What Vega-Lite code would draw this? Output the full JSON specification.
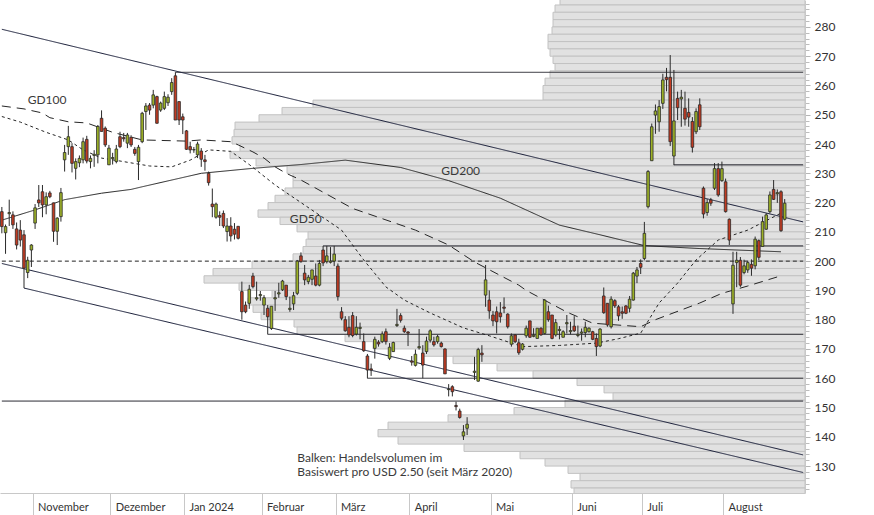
{
"$schema":"https://vega.github.io/schema/vega-lite/v6.json",
"width":805,"height":493,"autosize":"none",
"padding":{"left":0,"top":0,"right":69,"bottom":22},
"background":"white",
"config":{"view":{"stroke":null}},
"datasets":{
"vol":[
{"lo":287.5,"vol":245},{"lo":285,"vol":250},{"lo":282.5,"vol":252},{"lo":280,"vol":252},{"lo":277.5,"vol":253},{"lo":275,"vol":257},{"lo":272.5,"vol":257},{"lo":270,"vol":255},{"lo":267.5,"vol":252},{"lo":265,"vol":250},{"lo":262.5,"vol":255},{"lo":260,"vol":260},{"lo":257.5,"vol":262},{"lo":255,"vol":262},{"lo":252.5,"vol":492},{"lo":250,"vol":523},{"lo":247.5,"vol":546},{"lo":245,"vol":570},{"lo":242.5,"vol":571},{"lo":240,"vol":573},{"lo":237.5,"vol":565},{"lo":235,"vol":575},{"lo":232.5,"vol":549},{"lo":230,"vol":518},{"lo":227.5,"vol":512},{"lo":225,"vol":512},{"lo":222.5,"vol":520},{"lo":220,"vol":530},{"lo":217.5,"vol":537},{"lo":215,"vol":547},{"lo":212.5,"vol":525},{"lo":210,"vol":508},{"lo":207.5,"vol":497},{"lo":205,"vol":499},{"lo":202.5,"vol":502},{"lo":200,"vol":512},{"lo":197.5,"vol":553},{"lo":195,"vol":592},{"lo":192.5,"vol":601},{"lo":190,"vol":566},{"lo":187.5,"vol":533},{"lo":185,"vol":557},{"lo":182.5,"vol":552},{"lo":180,"vol":544},{"lo":177.5,"vol":511},{"lo":175,"vol":508},{"lo":172.5,"vol":460},{"lo":170,"vol":432},{"lo":167.5,"vol":383},{"lo":165,"vol":352},{"lo":162.5,"vol":308},{"lo":160,"vol":272},{"lo":157.5,"vol":228},{"lo":155,"vol":201},{"lo":152.5,"vol":192},{"lo":150,"vol":240},{"lo":147.5,"vol":291},{"lo":145,"vol":357},{"lo":142.5,"vol":417},{"lo":140,"vol":427},{"lo":137.5,"vol":407},{"lo":135,"vol":341},{"lo":132.5,"vol":285},{"lo":130,"vol":260},{"lo":127.5,"vol":237},{"lo":125,"vol":225},{"lo":122.5,"vol":234},{"lo":120,"vol":231}
],
"candles":[
{"d":"2023-10-19","o":216.9,"h":218.5,"l":209.5,"c":211.8},
{"d":"2023-10-20","o":209.7,"h":212.5,"l":202.5,"c":211.8},
{"d":"2023-10-23","o":216.2,"h":221,"l":212,"c":216.6},
{"d":"2023-10-24","o":215.8,"h":217,"l":211,"c":212.4},
{"d":"2023-10-25","o":211,"h":213.2,"l":204,"c":205.5},
{"d":"2023-10-26","o":210.6,"h":214,"l":205,"c":207.2},
{"d":"2023-10-27","o":209,"h":210.6,"l":190.8,"c":197.6},
{"d":"2023-10-30","o":196.1,"h":201.5,"l":194.2,"c":200.3},
{"d":"2023-10-31","o":203.8,"h":205.8,"l":198,"c":205.5},
{"d":"2023-11-01","o":213,"h":219.5,"l":211,"c":218.2},
{"d":"2023-11-02","o":220.9,"h":226,"l":218.5,"c":219.9},
{"d":"2023-11-03","o":223.7,"h":226,"l":215,"c":219.2},
{"d":"2023-11-06","o":219.2,"h":223.5,"l":216,"c":222},
{"d":"2023-11-07","o":223.3,"h":224,"l":221.5,"c":222},
{"d":"2023-11-08","o":219.9,"h":220,"l":206.6,"c":210.2},
{"d":"2023-11-09","o":210.2,"h":215,"l":205.5,"c":214.7},
{"d":"2023-11-10","o":215.2,"h":225,"l":213.5,"c":223.4},
{"d":"2023-11-13","o":234.6,"h":239.7,"l":230.6,"c":237.1},
{"d":"2023-11-14","o":239.1,"h":246.2,"l":236.3,"c":242.5},
{"d":"2023-11-15","o":239.1,"h":240.3,"l":230.3,"c":233.4},
{"d":"2023-11-16","o":231.7,"h":235.1,"l":227.9,"c":234},
{"d":"2023-11-17","o":233.6,"h":236.1,"l":232.1,"c":235.1},
{"d":"2023-11-20","o":234.6,"h":242.2,"l":233.4,"c":240.8},
{"d":"2023-11-21","o":241.6,"h":242.8,"l":233.4,"c":234.2},
{"d":"2023-11-22","o":234,"h":236.1,"l":231.7,"c":235.1},
{"d":"2023-11-24","o":236.1,"h":237.9,"l":232.2,"c":236.5},
{"d":"2023-11-27","o":236.3,"h":246.5,"l":233.4,"c":246},
{"d":"2023-11-28","o":248.8,"h":251.5,"l":244.3,"c":244.3},
{"d":"2023-11-29","o":245.4,"h":246,"l":239,"c":239.7},
{"d":"2023-11-30","o":232.9,"h":239.7,"l":232.9,"c":238.6},
{"d":"2023-12-01","o":235,"h":237,"l":233,"c":235.4},
{"d":"2023-12-04","o":234,"h":239.7,"l":233.4,"c":238.3},
{"d":"2023-12-05","o":242.5,"h":244.2,"l":238.6,"c":239.1},
{"d":"2023-12-06","o":242.2,"h":243.8,"l":240.8,"c":241.8},
{"d":"2023-12-07","o":240.3,"h":243.8,"l":238.6,"c":243.1},
{"d":"2023-12-08","o":242.3,"h":243,"l":239,"c":239.7},
{"d":"2023-12-11","o":238.2,"h":239,"l":236,"c":236.8},
{"d":"2023-12-12","o":234,"h":239.7,"l":227.7,"c":238.9},
{"d":"2023-12-13","o":240.8,"h":251,"l":240.3,"c":250.5},
{"d":"2023-12-14","o":251.1,"h":254,"l":244.8,"c":253},
{"d":"2023-12-15","o":253.3,"h":254,"l":250,"c":251.6},
{"d":"2023-12-18","o":253.3,"h":258.5,"l":252.2,"c":256.8},
{"d":"2023-12-19","o":256.2,"h":256.5,"l":247,"c":247.1},
{"d":"2023-12-20","o":251.6,"h":254.5,"l":251,"c":254},
{"d":"2023-12-21","o":252.2,"h":257.9,"l":251.6,"c":256.2},
{"d":"2023-12-22","o":254.1,"h":257,"l":253,"c":256},
{"d":"2023-12-26","o":257.9,"h":262.5,"l":256.8,"c":261},
{"d":"2023-12-27","o":263.3,"h":264.5,"l":248.2,"c":248.2},
{"d":"2023-12-28","o":254.5,"h":254.5,"l":246.5,"c":248.2},
{"d":"2023-12-29","o":249.3,"h":250.4,"l":243.4,"c":248.2},
{"d":"2024-01-02","o":244.5,"h":244.8,"l":238,"c":238.2},
{"d":"2024-01-03","o":239.1,"h":240.8,"l":236.8,"c":238},
{"d":"2024-01-04","o":238,"h":239,"l":237,"c":238.1},
{"d":"2024-01-05","o":236.3,"h":240.8,"l":235.2,"c":240},
{"d":"2024-01-08","o":237.6,"h":238.6,"l":232.2,"c":234.8},
{"d":"2024-01-09","o":234.6,"h":236.3,"l":230.9,"c":234},
{"d":"2024-01-10","o":230,"h":230.6,"l":225.8,"c":226.8},
{"d":"2024-01-11","o":219.5,"h":224.8,"l":215,"c":218.6},
{"d":"2024-01-12","o":215,"h":220,"l":214.5,"c":219.5},
{"d":"2024-01-16","o":215.6,"h":217,"l":212,"c":215},
{"d":"2024-01-17","o":216.3,"h":217.3,"l":211.3,"c":212},
{"d":"2024-01-18","o":210.1,"h":214.7,"l":206.7,"c":212},
{"d":"2024-01-19","o":212,"h":215,"l":206.7,"c":208.6},
{"d":"2024-01-22","o":210.9,"h":213,"l":207.4,"c":209.2},
{"d":"2024-01-23","o":211.9,"h":211.9,"l":207.4,"c":207.8},
{"d":"2024-01-24","o":189.6,"h":193,"l":180,"c":182.7},
{"d":"2024-01-25","o":185,"h":186.2,"l":182.2,"c":182.7},
{"d":"2024-01-26","o":185.6,"h":191.9,"l":183.7,"c":190.4},
{"d":"2024-01-29","o":194.9,"h":196,"l":190.7,"c":191.3},
{"d":"2024-01-30","o":187.1,"h":193,"l":186.5,"c":187.5},
{"d":"2024-01-31","o":188.2,"h":189.8,"l":186.5,"c":188.6},
{"d":"2024-02-01","o":185,"h":188.4,"l":181.6,"c":187.5},
{"d":"2024-02-02","o":183.9,"h":185,"l":175,"c":181},
{"d":"2024-02-05","o":177,"h":184.6,"l":176.5,"c":184.6},
{"d":"2024-02-06","o":187.1,"h":189.8,"l":183,"c":187.5},
{"d":"2024-02-07","o":188.8,"h":192.6,"l":187.5,"c":189.2},
{"d":"2024-02-08","o":190.2,"h":193.6,"l":189.8,"c":193.2},
{"d":"2024-02-09","o":191.8,"h":191.8,"l":186.7,"c":187.9},
{"d":"2024-02-12","o":183.5,"h":187.9,"l":182.7,"c":183.9},
{"d":"2024-02-13","o":185.4,"h":189.5,"l":183.3,"c":188.2},
{"d":"2024-02-14","o":189,"h":200.4,"l":188.4,"c":200},
{"d":"2024-02-15","o":201.8,"h":203,"l":199.5,"c":199.8},
{"d":"2024-02-16","o":195.9,"h":198.7,"l":191.8,"c":193.6},
{"d":"2024-02-20","o":193,"h":195.3,"l":192.1,"c":194.5},
{"d":"2024-02-21","o":193.8,"h":197,"l":191.8,"c":197},
{"d":"2024-02-22","o":194.9,"h":199.2,"l":191.4,"c":191.8},
{"d":"2024-02-23","o":191.8,"h":200.4,"l":191.4,"c":199.2},
{"d":"2024-02-26","o":203.8,"h":205.2,"l":198.3,"c":199.4},
{"d":"2024-02-27","o":199.8,"h":205.2,"l":199.2,"c":201.8},
{"d":"2024-02-28","o":199.6,"h":204.8,"l":199.2,"c":200},
{"d":"2024-02-29","o":200,"h":205.2,"l":198.3,"c":202.4},
{"d":"2024-03-01","o":198.3,"h":199.2,"l":186.5,"c":187.9},
{"d":"2024-03-04","o":182.7,"h":184.3,"l":179.8,"c":180.5},
{"d":"2024-03-05","o":180,"h":181.2,"l":175.9,"c":176.2},
{"d":"2024-03-06","o":177.4,"h":181.2,"l":174,"c":174.8},
{"d":"2024-03-07","o":181.4,"h":182.6,"l":174,"c":174.6},
{"d":"2024-03-08","o":175.1,"h":181.2,"l":174.6,"c":177.4},
{"d":"2024-03-11","o":177,"h":179,"l":173.3,"c":177.4},
{"d":"2024-03-12","o":172.5,"h":175.3,"l":169,"c":169.4},
{"d":"2024-03-13","o":167.6,"h":168.3,"l":160,"c":162.8},
{"d":"2024-03-14","o":163.2,"h":165,"l":160.8,"c":162.8},
{"d":"2024-03-15","o":170.2,"h":174.2,"l":166.7,"c":173.3},
{"d":"2024-03-18","o":172.3,"h":173,"l":170.8,"c":171.7},
{"d":"2024-03-19","o":172.5,"h":176,"l":172,"c":175.1},
{"d":"2024-03-20","o":175.9,"h":177,"l":171.5,"c":172.5},
{"d":"2024-03-21","o":166.8,"h":172,"l":166.2,"c":170.6},
{"d":"2024-03-22","o":169.1,"h":172.5,"l":169,"c":172.2},
{"d":"2024-03-25","o":178,"h":183.7,"l":177.5,"c":178.4},
{"d":"2024-03-26","o":181.4,"h":182.2,"l":179,"c":179.8},
{"d":"2024-03-27","o":177.1,"h":178,"l":175.5,"c":175.9},
{"d":"2024-03-28","o":175.8,"h":176.1,"l":171,"c":175.4},
{"d":"2024-04-01","o":165.9,"h":167.6,"l":164.3,"c":165.5},
{"d":"2024-04-02","o":164.4,"h":169.8,"l":164,"c":168.2},
{"d":"2024-04-03","o":170.4,"h":176.8,"l":169.8,"c":170.8},
{"d":"2024-04-04","o":168.6,"h":171.3,"l":160,"c":164.5},
{"d":"2024-04-05","o":169.1,"h":174.2,"l":168.3,"c":172.7},
{"d":"2024-04-08","o":173,"h":176.7,"l":172.2,"c":176.2},
{"d":"2024-04-09","o":172.5,"h":174.2,"l":170.8,"c":171.4},
{"d":"2024-04-10","o":172.5,"h":174.8,"l":171.8,"c":174.2},
{"d":"2024-04-11","o":172,"h":172.5,"l":170.5,"c":170.8},
{"d":"2024-04-12","o":170,"h":170.2,"l":161.5,"c":161.5},
{"d":"2024-04-15","o":156.1,"h":158,"l":153.8,"c":156.3},
{"d":"2024-04-16","o":157.1,"h":157.6,"l":153.8,"c":155.4},
{"d":"2024-04-17","o":150.7,"h":152,"l":149,"c":150.3},
{"d":"2024-04-18","o":148.8,"h":149.6,"l":146.2,"c":146.6},
{"d":"2024-04-19","o":140.3,"h":144,"l":138.9,"c":141.7},
{"d":"2024-04-22","o":142.9,"h":146.7,"l":140.6,"c":144.3},
{"d":"2024-04-24","o":162,"h":167.3,"l":159.4,"c":162.4},
{"d":"2024-04-25","o":159,"h":170.4,"l":158.8,"c":169.8},
{"d":"2024-04-26","o":168.6,"h":171.3,"l":165.6,"c":168},
{"d":"2024-04-29","o":188.4,"h":198.7,"l":184.4,"c":193.6},
{"d":"2024-04-30","o":186.7,"h":190,"l":180.3,"c":183},
{"d":"2024-05-01","o":181.6,"h":183,"l":177.8,"c":179.6},
{"d":"2024-05-02","o":182.7,"h":184.5,"l":175.3,"c":179.3},
{"d":"2024-05-03","o":182.3,"h":186,"l":179,"c":181},
{"d":"2024-05-06","o":184.3,"h":187.6,"l":182.2,"c":183.9},
{"d":"2024-05-07","o":181.9,"h":182.2,"l":177,"c":177.6},
{"d":"2024-05-08","o":171.6,"h":175.3,"l":170.8,"c":174.5},
{"d":"2024-05-09","o":174.8,"h":175,"l":172,"c":172.5},
{"d":"2024-05-10","o":172.1,"h":173.5,"l":168,"c":168.7},
{"d":"2024-05-13","o":169.9,"h":172,"l":169.5,"c":171.7},
{"d":"2024-05-14","o":174.5,"h":178,"l":173.8,"c":177.1},
{"d":"2024-05-15","o":179.6,"h":179.6,"l":173.8,"c":174},
{"d":"2024-05-16","o":174.3,"h":177.1,"l":174,"c":174.7},
{"d":"2024-05-17","o":173.6,"h":177.1,"l":173.6,"c":177.1},
{"d":"2024-05-20","o":177.1,"h":177.4,"l":174.5,"c":174.8},
{"d":"2024-05-21","o":175.3,"h":187,"l":175,"c":186.7},
{"d":"2024-05-22","o":182.7,"h":184.8,"l":179.3,"c":180},
{"d":"2024-05-23","o":181.6,"h":181.6,"l":173.3,"c":173.6},
{"d":"2024-05-24","o":174.8,"h":180.2,"l":174.2,"c":179},
{"d":"2024-05-28","o":176.3,"h":177.8,"l":173.3,"c":176.7},
{"d":"2024-05-29","o":174,"h":176.4,"l":174,"c":175.9},
{"d":"2024-05-30","o":178.6,"h":181.6,"l":175.3,"c":179},
{"d":"2024-05-31","o":175.9,"h":179.3,"l":175,"c":176.3},
{"d":"2024-06-03","o":177.8,"h":181.2,"l":175.8,"c":176.2},
{"d":"2024-06-04","o":174.6,"h":178,"l":174,"c":175},
{"d":"2024-06-05","o":175.4,"h":177,"l":172.8,"c":175.8},
{"d":"2024-06-06","o":175.6,"h":179.3,"l":174,"c":177.4},
{"d":"2024-06-07","o":175.9,"h":177.4,"l":175.6,"c":177.1},
{"d":"2024-06-10","o":175.9,"h":176.2,"l":173,"c":173.3},
{"d":"2024-06-11","o":173.6,"h":175.3,"l":167.6,"c":170.8},
{"d":"2024-06-12","o":171,"h":177.1,"l":170.6,"c":176.8},
{"d":"2024-06-13","o":188.1,"h":191,"l":182,"c":182.4},
{"d":"2024-06-14","o":185.6,"h":185.6,"l":177.6,"c":178.2},
{"d":"2024-06-17","o":177.6,"h":188,"l":177,"c":187},
{"d":"2024-06-18","o":186.5,"h":187,"l":184,"c":184.7},
{"d":"2024-06-20","o":184.4,"h":185,"l":179.6,"c":181.3},
{"d":"2024-06-21","o":182.7,"h":184.5,"l":180.3,"c":182.2},
{"d":"2024-06-24","o":184.7,"h":185,"l":181.9,"c":182.2},
{"d":"2024-06-25","o":183.9,"h":188.1,"l":182.5,"c":187},
{"d":"2024-06-26","o":186.7,"h":196.3,"l":186.5,"c":195.9},
{"d":"2024-06-27","o":194.9,"h":198,"l":192.5,"c":197},
{"d":"2024-06-28","o":199.2,"h":200.6,"l":195.6,"c":197.9},
{"d":"2024-07-01","o":200.9,"h":213.4,"l":200.3,"c":209.5},
{"d":"2024-07-02","o":218.6,"h":231.1,"l":218,"c":230.6},
{"d":"2024-07-03","o":234.3,"h":247,"l":234.3,"c":245.9},
{"d":"2024-07-05","o":249.9,"h":253.5,"l":243.5,"c":251.3},
{"d":"2024-07-08","o":247.6,"h":255,"l":244.2,"c":252.8},
{"d":"2024-07-09","o":253.9,"h":264,"l":252,"c":261.9},
{"d":"2024-07-10","o":262.8,"h":266,"l":258,"c":262},
{"d":"2024-07-11","o":262.8,"h":270.4,"l":239.3,"c":240.8},
{"d":"2024-07-12","o":235.9,"h":265.3,"l":232.8,"c":247.9},
{"d":"2024-07-15","o":255.6,"h":257.9,"l":248.2,"c":252.4},
{"d":"2024-07-16","o":255.4,"h":258.5,"l":245.9,"c":256},
{"d":"2024-07-17","o":252.2,"h":257.9,"l":246.3,"c":248.5},
{"d":"2024-07-18","o":250.8,"h":255.6,"l":245.9,"c":249.2},
{"d":"2024-07-19","o":247.7,"h":249.2,"l":237.1,"c":238.9},
{"d":"2024-07-22","o":244.2,"h":252.2,"l":243.4,"c":251.1},
{"d":"2024-07-23","o":253.4,"h":255.6,"l":244.8,"c":245.9},
{"d":"2024-07-24","o":224.9,"h":225.5,"l":214.6,"c":216.1},
{"d":"2024-07-25","o":216.6,"h":221.2,"l":215.5,"c":220},
{"d":"2024-07-26","o":220.9,"h":221.6,"l":218.9,"c":219.8},
{"d":"2024-07-29","o":224.9,"h":233.5,"l":224.3,"c":231.6},
{"d":"2024-07-30","o":231.6,"h":233.5,"l":222,"c":222.6},
{"d":"2024-07-31","o":227.5,"h":234,"l":227.1,"c":231.6},
{"d":"2024-08-01","o":227.1,"h":228.2,"l":216.6,"c":216.9},
{"d":"2024-08-02","o":214.3,"h":214.6,"l":205.5,"c":207.2},
{"d":"2024-08-05","o":185.4,"h":203.2,"l":182,"c":198.6},
{"d":"2024-08-06","o":199.5,"h":203.2,"l":191.1,"c":200.3},
{"d":"2024-08-07","o":200.3,"h":201.4,"l":191.2,"c":191.8},
{"d":"2024-08-08","o":196.1,"h":200.5,"l":195.5,"c":198.4},
{"d":"2024-08-09","o":197,"h":200.1,"l":196,"c":199.5},
{"d":"2024-08-12","o":198.9,"h":200.6,"l":195,"c":197.6},
{"d":"2024-08-13","o":198.4,"h":208.4,"l":197.2,"c":207.5},
{"d":"2024-08-14","o":207,"h":207.4,"l":200.4,"c":201.3},
{"d":"2024-08-15","o":205,"h":215.2,"l":205,"c":213.5},
{"d":"2024-08-16","o":210.9,"h":216.4,"l":210.7,"c":215.8},
{"d":"2024-08-19","o":216.9,"h":223.8,"l":216.4,"c":222.6},
{"d":"2024-08-20","o":224.5,"h":227.7,"l":220.9,"c":221.1},
{"d":"2024-08-21","o":223,"h":224.5,"l":219.9,"c":223.4},
{"d":"2024-08-22","o":223.7,"h":224.2,"l":210,"c":210.4},
{"d":"2024-08-23","o":214.3,"h":221.2,"l":213.9,"c":219.8}
],
"lines":[
{"id":"GD200","k":"GD200","d":"2023-10-19","v":214},{"id":"GD200","k":"GD200","d":"2023-11-01","v":217.5},{"id":"GD200","k":"GD200","d":"2023-11-13","v":221},{"id":"GD200","k":"GD200","d":"2023-11-28","v":223.2},{"id":"GD200","k":"GD200","d":"2023-12-08","v":224.5},{"id":"GD200","k":"GD200","d":"2023-12-13","v":225.4},{"id":"GD200","k":"GD200","d":"2024-01-08","v":230},{"id":"GD200","k":"GD200","d":"2024-01-29","v":231.7},{"id":"GD200","k":"GD200","d":"2024-02-15","v":233},{"id":"GD200","k":"GD200","d":"2024-03-05","v":234.5},{"id":"GD200","k":"GD200","d":"2024-03-26","v":232},{"id":"GD200","k":"GD200","d":"2024-04-15","v":227.5},{"id":"GD200","k":"GD200","d":"2024-05-03","v":221.5},{"id":"GD200","k":"GD200","d":"2024-05-28","v":212.3},{"id":"GD200","k":"GD200","d":"2024-06-12","v":209},{"id":"GD200","k":"GD200","d":"2024-07-01","v":205.3},{"id":"GD200","k":"GD200","d":"2024-07-23","v":204.3},{"id":"GD200","k":"GD200","d":"2024-08-22","v":203.2},
{"id":"GD100","k":"GD100","d":"2023-10-19","v":253},{"id":"GD100","k":"GD100","d":"2023-10-27","v":252},{"id":"GD100","k":"GD100","d":"2023-11-03","v":250.6},{"id":"GD100","k":"GD100","d":"2023-11-07","v":249},{"id":"GD100","k":"GD100","d":"2023-11-14","v":247.6},{"id":"GD100","k":"GD100","d":"2023-11-21","v":247.2},{"id":"GD100","k":"GD100","d":"2023-12-01","v":244},{"id":"GD100","k":"GD100","d":"2023-12-13","v":241.4},{"id":"GD100","k":"GD100","d":"2024-01-02","v":241},{"id":"GD100","k":"GD100","d":"2024-01-08","v":241.4},{"id":"GD100","k":"GD100","d":"2024-01-19","v":240.8},{"id":"GD100","k":"GD100","d":"2024-01-23","v":239.7},{"id":"GD100","k":"GD100","d":"2024-01-29","v":237.3},{"id":"GD100","k":"GD100","d":"2024-02-01","v":235.2},{"id":"GD100","k":"GD100","d":"2024-02-06","v":232.2},{"id":"GD100","k":"GD100","d":"2024-02-09","v":230},{"id":"GD100","k":"GD100","d":"2024-02-15","v":227.7},{"id":"GD100","k":"GD100","d":"2024-03-07","v":218},{"id":"GD100","k":"GD100","d":"2024-04-02","v":210.6},{"id":"GD100","k":"GD100","d":"2024-04-15","v":205.5},{"id":"GD100","k":"GD100","d":"2024-04-24","v":199.7},{"id":"GD100","k":"GD100","d":"2024-05-10","v":191.8},{"id":"GD100","k":"GD100","d":"2024-05-14","v":190},{"id":"GD100","k":"GD100","d":"2024-05-30","v":182.6},{"id":"GD100","k":"GD100","d":"2024-06-10","v":178.8},{"id":"GD100","k":"GD100","d":"2024-06-28","v":177.6},{"id":"GD100","k":"GD100","d":"2024-07-05","v":180},{"id":"GD100","k":"GD100","d":"2024-07-23","v":185.7},{"id":"GD100","k":"GD100","d":"2024-07-31","v":189},{"id":"GD100","k":"GD100","d":"2024-08-09","v":191.5},{"id":"GD100","k":"GD100","d":"2024-08-22","v":195},
{"id":"GD50","k":"GD50","d":"2023-10-19","v":249.4},{"id":"GD50","k":"GD50","d":"2023-10-26","v":247.5},{"id":"GD50","k":"GD50","d":"2023-11-06","v":244},{"id":"GD50","k":"GD50","d":"2023-11-14","v":241.4},{"id":"GD50","k":"GD50","d":"2023-11-20","v":238},{"id":"GD50","k":"GD50","d":"2023-11-28","v":235.2},{"id":"GD50","k":"GD50","d":"2023-12-05","v":234.2},{"id":"GD50","k":"GD50","d":"2023-12-15","v":232.5},{"id":"GD50","k":"GD50","d":"2023-12-26","v":232.2},{"id":"GD50","k":"GD50","d":"2024-01-03","v":234.5},{"id":"GD50","k":"GD50","d":"2024-01-10","v":238},{"id":"GD50","k":"GD50","d":"2024-01-19","v":237.5},{"id":"GD50","k":"GD50","d":"2024-01-26","v":233},{"id":"GD50","k":"GD50","d":"2024-02-06","v":226},{"id":"GD50","k":"GD50","d":"2024-02-15","v":220},{"id":"GD50","k":"GD50","d":"2024-03-04","v":210.6},{"id":"GD50","k":"GD50","d":"2024-03-12","v":200.4},{"id":"GD50","k":"GD50","d":"2024-03-20","v":191.2},{"id":"GD50","k":"GD50","d":"2024-03-27","v":186.7},{"id":"GD50","k":"GD50","d":"2024-04-08","v":182.3},{"id":"GD50","k":"GD50","d":"2024-04-19","v":177.2},{"id":"GD50","k":"GD50","d":"2024-04-30","v":174.5},{"id":"GD50","k":"GD50","d":"2024-05-13","v":170.8},{"id":"GD50","k":"GD50","d":"2024-05-28","v":171.2},{"id":"GD50","k":"GD50","d":"2024-06-11","v":172},{"id":"GD50","k":"GD50","d":"2024-06-20","v":173.5},{"id":"GD50","k":"GD50","d":"2024-06-28","v":175.4},{"id":"GD50","k":"GD50","d":"2024-07-08","v":185.7},{"id":"GD50","k":"GD50","d":"2024-07-15","v":192.5},{"id":"GD50","k":"GD50","d":"2024-07-22","v":200.4},{"id":"GD50","k":"GD50","d":"2024-07-30","v":207.2},{"id":"GD50","k":"GD50","d":"2024-08-09","v":210.6},{"id":"GD50","k":"GD50","d":"2024-08-22","v":216.4},
{"id":"h1","k":"level","d":"2023-12-27","v":264.5},{"id":"h1","k":"level","d":"2024-08-30","v":264.5},
{"id":"h2","k":"level","d":"2024-07-12","v":232.9},{"id":"h2","k":"level","d":"2024-08-30","v":232.9},
{"id":"h3","k":"level","d":"2024-02-26","v":205.2},{"id":"h3","k":"level","d":"2024-08-30","v":205.2},
{"id":"h4","k":"level","d":"2024-02-02","v":175},{"id":"h4","k":"level","d":"2024-08-30","v":175},
{"id":"h5","k":"level","d":"2024-03-13","v":160},{"id":"h5","k":"level","d":"2024-08-30","v":160},
{"id":"h6","k":"level","d":"2023-10-19","v":152.2},{"id":"h6","k":"level","d":"2024-08-30","v":152.2},
{"id":"t1","k":"trend","d":"2023-10-19","v":279.2},{"id":"t1","k":"trend","d":"2024-08-30","v":213.4},
{"id":"t2","k":"trend","d":"2023-10-19","v":199.2},{"id":"t2","k":"trend","d":"2024-08-30","v":133.8},
{"id":"t3","k":"trend","d":"2023-10-27","v":190.8},{"id":"t3","k":"trend","d":"2024-08-30","v":127.8},
{"id":"z","k":"zero","d":"2023-10-19","v":200},{"id":"z","k":"zero","d":"2024-08-30","v":200}
],
"labels":[
{"t":"GD100","d":"2023-10-30","v":255.1},
{"t":"GD200","d":"2024-04-11","v":230.8},
{"t":"GD50","d":"2024-02-12","v":214.4},
{"t":"Balken: Handelsvolumen im\nBasiswert pro USD 2.50 (seit März 2020)","d":"2024-02-14","v":132.8}
]
},
"resolve":{"scale":{"x":"independent","y":"independent"}},
"layer":[
{"data":{"name":"vol"},
 "transform":[{"calculate":"datum.lo + 2.5","as":"hi"}],
 "mark":{"type":"rect","fill":"#e1e1e1","stroke":"#c2c2c2","strokeWidth":1,"clip":true},
 "encoding":{
  "x":{"field":"vol","type":"quantitative","scale":{"domain":[0,805],"reverse":true,"nice":false,"zero":true},"axis":null},
  "x2":{"datum":0},
  "y":{"field":"lo","type":"quantitative","scale":{"domain":[120.8,289.2],"nice":false,"zero":false},
       "axis":{"orient":"right","title":null,"grid":false,"labels":false,"domain":false,"ticks":true,"tickSize":4,"tickColor":"#bcbcbc",
               "values":[122,124,126,128,132,134,136,138,142,144,146,148,152,154,156,158,162,164,166,168,172,174,176,178,182,184,186,188,192,194,196,198,202,204,206,208,212,214,216,218,222,224,226,228,232,234,236,238,242,244,246,248,252,254,256,258,262,264,266,268,272,274,276,278,282,284,286,288]}},
  "y2":{"field":"hi"}
 }},
{"data":{"name":"lines"},
 "mark":{"type":"line"},
 "encoding":{
  "x":{"field":"d","type":"ordinal","bandPosition":0.5,"axis":null,
       "scale":{"type":"band","paddingInner":0,"paddingOuter":0,"domain":["2023-10-19","2023-10-20","2023-10-23","2023-10-24","2023-10-25","2023-10-26","2023-10-27","2023-10-30","2023-10-31","2023-11-01","2023-11-02","2023-11-03","2023-11-06","2023-11-07","2023-11-08","2023-11-09","2023-11-10","2023-11-13","2023-11-14","2023-11-15","2023-11-16","2023-11-17","2023-11-20","2023-11-21","2023-11-22","2023-11-24","2023-11-27","2023-11-28","2023-11-29","2023-11-30","2023-12-01","2023-12-04","2023-12-05","2023-12-06","2023-12-07","2023-12-08","2023-12-11","2023-12-12","2023-12-13","2023-12-14","2023-12-15","2023-12-18","2023-12-19","2023-12-20","2023-12-21","2023-12-22","2023-12-26","2023-12-27","2023-12-28","2023-12-29","2024-01-02","2024-01-03","2024-01-04","2024-01-05","2024-01-08","2024-01-09","2024-01-10","2024-01-11","2024-01-12","2024-01-16","2024-01-17","2024-01-18","2024-01-19","2024-01-22","2024-01-23","2024-01-24","2024-01-25","2024-01-26","2024-01-29","2024-01-30","2024-01-31","2024-02-01","2024-02-02","2024-02-05","2024-02-06","2024-02-07","2024-02-08","2024-02-09","2024-02-12","2024-02-13","2024-02-14","2024-02-15","2024-02-16","2024-02-20","2024-02-21","2024-02-22","2024-02-23","2024-02-26","2024-02-27","2024-02-28","2024-02-29","2024-03-01","2024-03-04","2024-03-05","2024-03-06","2024-03-07","2024-03-08","2024-03-11","2024-03-12","2024-03-13","2024-03-14","2024-03-15","2024-03-18","2024-03-19","2024-03-20","2024-03-21","2024-03-22","2024-03-25","2024-03-26","2024-03-27","2024-03-28","2024-04-01","2024-04-02","2024-04-03","2024-04-04","2024-04-05","2024-04-08","2024-04-09","2024-04-10","2024-04-11","2024-04-12","2024-04-15","2024-04-16","2024-04-17","2024-04-18","2024-04-19","2024-04-22","2024-04-23","2024-04-24","2024-04-25","2024-04-26","2024-04-29","2024-04-30","2024-05-01","2024-05-02","2024-05-03","2024-05-06","2024-05-07","2024-05-08","2024-05-09","2024-05-10","2024-05-13","2024-05-14","2024-05-15","2024-05-16","2024-05-17","2024-05-20","2024-05-21","2024-05-22","2024-05-23","2024-05-24","2024-05-28","2024-05-29","2024-05-30","2024-05-31","2024-06-03","2024-06-04","2024-06-05","2024-06-06","2024-06-07","2024-06-10","2024-06-11","2024-06-12","2024-06-13","2024-06-14","2024-06-17","2024-06-18","2024-06-20","2024-06-21","2024-06-24","2024-06-25","2024-06-26","2024-06-27","2024-06-28","2024-07-01","2024-07-02","2024-07-03","2024-07-05","2024-07-08","2024-07-09","2024-07-10","2024-07-11","2024-07-12","2024-07-15","2024-07-16","2024-07-17","2024-07-18","2024-07-19","2024-07-22","2024-07-23","2024-07-24","2024-07-25","2024-07-26","2024-07-29","2024-07-30","2024-07-31","2024-08-01","2024-08-02","2024-08-05","2024-08-06","2024-08-07","2024-08-08","2024-08-09","2024-08-12","2024-08-13","2024-08-14","2024-08-15","2024-08-16","2024-08-19","2024-08-20","2024-08-21","2024-08-22","2024-08-23","2024-08-26","2024-08-27","2024-08-28","2024-08-29","2024-08-30"]}},
  "y":{"field":"v","type":"quantitative","axis":null,"scale":{"domain":[120.8,289.2],"nice":false,"zero":false}},
  "detail":{"field":"id"},
  "strokeDash":{"field":"k","type":"nominal","scale":{"domain":["GD50","GD100","GD200","level","trend","zero"],"range":[[3,3],[9,6],[1,0],[1,0],[1,0],[4,3]]},"legend":null},
  "stroke":{"field":"k","type":"nominal","scale":{"domain":["GD50","GD100","GD200","level","trend","zero"],"range":["#262626","#262626","#262626","#1c1c24","#161b36","#222222"]},"legend":null},
  "strokeWidth":{"field":"k","type":"nominal","scale":{"domain":["GD50","GD100","GD200","level","trend","zero"],"range":[1,1,1,1.3,1.2,1]},"legend":null}
 }},
{"data":{"name":"candles"},
 "mark":{"type":"rule","stroke":"#2a2a2a","strokeWidth":1},
 "encoding":{
  "x":{"field":"d","type":"ordinal","bandPosition":0.5,
       "scale":{"type":"band","paddingInner":0,"paddingOuter":0,"domain":["2023-10-19","2023-10-20","2023-10-23","2023-10-24","2023-10-25","2023-10-26","2023-10-27","2023-10-30","2023-10-31","2023-11-01","2023-11-02","2023-11-03","2023-11-06","2023-11-07","2023-11-08","2023-11-09","2023-11-10","2023-11-13","2023-11-14","2023-11-15","2023-11-16","2023-11-17","2023-11-20","2023-11-21","2023-11-22","2023-11-24","2023-11-27","2023-11-28","2023-11-29","2023-11-30","2023-12-01","2023-12-04","2023-12-05","2023-12-06","2023-12-07","2023-12-08","2023-12-11","2023-12-12","2023-12-13","2023-12-14","2023-12-15","2023-12-18","2023-12-19","2023-12-20","2023-12-21","2023-12-22","2023-12-26","2023-12-27","2023-12-28","2023-12-29","2024-01-02","2024-01-03","2024-01-04","2024-01-05","2024-01-08","2024-01-09","2024-01-10","2024-01-11","2024-01-12","2024-01-16","2024-01-17","2024-01-18","2024-01-19","2024-01-22","2024-01-23","2024-01-24","2024-01-25","2024-01-26","2024-01-29","2024-01-30","2024-01-31","2024-02-01","2024-02-02","2024-02-05","2024-02-06","2024-02-07","2024-02-08","2024-02-09","2024-02-12","2024-02-13","2024-02-14","2024-02-15","2024-02-16","2024-02-20","2024-02-21","2024-02-22","2024-02-23","2024-02-26","2024-02-27","2024-02-28","2024-02-29","2024-03-01","2024-03-04","2024-03-05","2024-03-06","2024-03-07","2024-03-08","2024-03-11","2024-03-12","2024-03-13","2024-03-14","2024-03-15","2024-03-18","2024-03-19","2024-03-20","2024-03-21","2024-03-22","2024-03-25","2024-03-26","2024-03-27","2024-03-28","2024-04-01","2024-04-02","2024-04-03","2024-04-04","2024-04-05","2024-04-08","2024-04-09","2024-04-10","2024-04-11","2024-04-12","2024-04-15","2024-04-16","2024-04-17","2024-04-18","2024-04-19","2024-04-22","2024-04-23","2024-04-24","2024-04-25","2024-04-26","2024-04-29","2024-04-30","2024-05-01","2024-05-02","2024-05-03","2024-05-06","2024-05-07","2024-05-08","2024-05-09","2024-05-10","2024-05-13","2024-05-14","2024-05-15","2024-05-16","2024-05-17","2024-05-20","2024-05-21","2024-05-22","2024-05-23","2024-05-24","2024-05-28","2024-05-29","2024-05-30","2024-05-31","2024-06-03","2024-06-04","2024-06-05","2024-06-06","2024-06-07","2024-06-10","2024-06-11","2024-06-12","2024-06-13","2024-06-14","2024-06-17","2024-06-18","2024-06-20","2024-06-21","2024-06-24","2024-06-25","2024-06-26","2024-06-27","2024-06-28","2024-07-01","2024-07-02","2024-07-03","2024-07-05","2024-07-08","2024-07-09","2024-07-10","2024-07-11","2024-07-12","2024-07-15","2024-07-16","2024-07-17","2024-07-18","2024-07-19","2024-07-22","2024-07-23","2024-07-24","2024-07-25","2024-07-26","2024-07-29","2024-07-30","2024-07-31","2024-08-01","2024-08-02","2024-08-05","2024-08-06","2024-08-07","2024-08-08","2024-08-09","2024-08-12","2024-08-13","2024-08-14","2024-08-15","2024-08-16","2024-08-19","2024-08-20","2024-08-21","2024-08-22","2024-08-23","2024-08-26","2024-08-27","2024-08-28","2024-08-29","2024-08-30"]},
       "axis":{"title":null,"values":["2023-11-01","2023-12-01","2024-01-02","2024-02-01","2024-03-01","2024-04-01","2024-05-01","2024-06-03","2024-07-01","2024-08-01"],
               "labelExpr":"datum.value == '2023-11-01' ? 'November' : datum.value == '2023-12-01' ? 'Dezember' : datum.value == '2024-01-02' ? 'Jan 2024' : datum.value == '2024-02-01' ? 'Februar' : datum.value == '2024-03-01' ? 'März' : datum.value == '2024-04-01' ? 'April' : datum.value == '2024-05-01' ? 'Mai' : datum.value == '2024-06-03' ? 'Juni' : datum.value == '2024-07-01' ? 'Juli' : 'August'",
               "bandPosition":0,"tickSize":22,"tickColor":"#c8c8c8","domainColor":"#c8c8c8","labelAlign":"left","labelBaseline":"middle","labelPadding":-8,"labelOffset":3,"labelAngle":0,"labelFontSize":11,"labelColor":"#333333","labelFont":"Lato","grid":false}},
  "y":{"field":"h","type":"quantitative","scale":{"domain":[120.8,289.2],"nice":false,"zero":false},
       "axis":{"orient":"right","title":null,"grid":false,"values":[130,140,150,160,170,180,190,200,210,220,230,240,250,260,270,280],
               "tickSize":5,"tickColor":"#b5b5b5","domainColor":"#c8c8c8","labelFontSize":12,"labelColor":"#333333","labelPadding":4,"labelFont":"Lato"}},
  "y2":{"field":"l"}
 }},
{"data":{"name":"candles"},
 "mark":{"type":"bar","width":2.6,"stroke":"#2a2a2a","strokeWidth":0.8},
 "encoding":{
  "x":{"field":"d","type":"ordinal","axis":null,
       "scale":{"type":"band","paddingInner":0,"paddingOuter":0,"domain":["2023-10-19","2023-10-20","2023-10-23","2023-10-24","2023-10-25","2023-10-26","2023-10-27","2023-10-30","2023-10-31","2023-11-01","2023-11-02","2023-11-03","2023-11-06","2023-11-07","2023-11-08","2023-11-09","2023-11-10","2023-11-13","2023-11-14","2023-11-15","2023-11-16","2023-11-17","2023-11-20","2023-11-21","2023-11-22","2023-11-24","2023-11-27","2023-11-28","2023-11-29","2023-11-30","2023-12-01","2023-12-04","2023-12-05","2023-12-06","2023-12-07","2023-12-08","2023-12-11","2023-12-12","2023-12-13","2023-12-14","2023-12-15","2023-12-18","2023-12-19","2023-12-20","2023-12-21","2023-12-22","2023-12-26","2023-12-27","2023-12-28","2023-12-29","2024-01-02","2024-01-03","2024-01-04","2024-01-05","2024-01-08","2024-01-09","2024-01-10","2024-01-11","2024-01-12","2024-01-16","2024-01-17","2024-01-18","2024-01-19","2024-01-22","2024-01-23","2024-01-24","2024-01-25","2024-01-26","2024-01-29","2024-01-30","2024-01-31","2024-02-01","2024-02-02","2024-02-05","2024-02-06","2024-02-07","2024-02-08","2024-02-09","2024-02-12","2024-02-13","2024-02-14","2024-02-15","2024-02-16","2024-02-20","2024-02-21","2024-02-22","2024-02-23","2024-02-26","2024-02-27","2024-02-28","2024-02-29","2024-03-01","2024-03-04","2024-03-05","2024-03-06","2024-03-07","2024-03-08","2024-03-11","2024-03-12","2024-03-13","2024-03-14","2024-03-15","2024-03-18","2024-03-19","2024-03-20","2024-03-21","2024-03-22","2024-03-25","2024-03-26","2024-03-27","2024-03-28","2024-04-01","2024-04-02","2024-04-03","2024-04-04","2024-04-05","2024-04-08","2024-04-09","2024-04-10","2024-04-11","2024-04-12","2024-04-15","2024-04-16","2024-04-17","2024-04-18","2024-04-19","2024-04-22","2024-04-23","2024-04-24","2024-04-25","2024-04-26","2024-04-29","2024-04-30","2024-05-01","2024-05-02","2024-05-03","2024-05-06","2024-05-07","2024-05-08","2024-05-09","2024-05-10","2024-05-13","2024-05-14","2024-05-15","2024-05-16","2024-05-17","2024-05-20","2024-05-21","2024-05-22","2024-05-23","2024-05-24","2024-05-28","2024-05-29","2024-05-30","2024-05-31","2024-06-03","2024-06-04","2024-06-05","2024-06-06","2024-06-07","2024-06-10","2024-06-11","2024-06-12","2024-06-13","2024-06-14","2024-06-17","2024-06-18","2024-06-20","2024-06-21","2024-06-24","2024-06-25","2024-06-26","2024-06-27","2024-06-28","2024-07-01","2024-07-02","2024-07-03","2024-07-05","2024-07-08","2024-07-09","2024-07-10","2024-07-11","2024-07-12","2024-07-15","2024-07-16","2024-07-17","2024-07-18","2024-07-19","2024-07-22","2024-07-23","2024-07-24","2024-07-25","2024-07-26","2024-07-29","2024-07-30","2024-07-31","2024-08-01","2024-08-02","2024-08-05","2024-08-06","2024-08-07","2024-08-08","2024-08-09","2024-08-12","2024-08-13","2024-08-14","2024-08-15","2024-08-16","2024-08-19","2024-08-20","2024-08-21","2024-08-22","2024-08-23","2024-08-26","2024-08-27","2024-08-28","2024-08-29","2024-08-30"]}},
  "y":{"field":"o","type":"quantitative","axis":null,"scale":{"domain":[120.8,289.2],"nice":false,"zero":false}},
  "y2":{"field":"c"},
  "fill":{"condition":{"test":"datum.c >= datum.o","value":"#9db227"},"value":"#c23b22"}
 }},
{"data":{"name":"labels"},
 "mark":{"type":"text","align":"left","baseline":"middle","fontSize":12,"font":"Lato","fill":"#3a3a3a","lineBreak":"\n","lineHeight":14},
 "encoding":{
  "x":{"field":"d","type":"ordinal","bandPosition":0.5,"axis":null,
       "scale":{"type":"band","paddingInner":0,"paddingOuter":0,"domain":["2023-10-19","2023-10-20","2023-10-23","2023-10-24","2023-10-25","2023-10-26","2023-10-27","2023-10-30","2023-10-31","2023-11-01","2023-11-02","2023-11-03","2023-11-06","2023-11-07","2023-11-08","2023-11-09","2023-11-10","2023-11-13","2023-11-14","2023-11-15","2023-11-16","2023-11-17","2023-11-20","2023-11-21","2023-11-22","2023-11-24","2023-11-27","2023-11-28","2023-11-29","2023-11-30","2023-12-01","2023-12-04","2023-12-05","2023-12-06","2023-12-07","2023-12-08","2023-12-11","2023-12-12","2023-12-13","2023-12-14","2023-12-15","2023-12-18","2023-12-19","2023-12-20","2023-12-21","2023-12-22","2023-12-26","2023-12-27","2023-12-28","2023-12-29","2024-01-02","2024-01-03","2024-01-04","2024-01-05","2024-01-08","2024-01-09","2024-01-10","2024-01-11","2024-01-12","2024-01-16","2024-01-17","2024-01-18","2024-01-19","2024-01-22","2024-01-23","2024-01-24","2024-01-25","2024-01-26","2024-01-29","2024-01-30","2024-01-31","2024-02-01","2024-02-02","2024-02-05","2024-02-06","2024-02-07","2024-02-08","2024-02-09","2024-02-12","2024-02-13","2024-02-14","2024-02-15","2024-02-16","2024-02-20","2024-02-21","2024-02-22","2024-02-23","2024-02-26","2024-02-27","2024-02-28","2024-02-29","2024-03-01","2024-03-04","2024-03-05","2024-03-06","2024-03-07","2024-03-08","2024-03-11","2024-03-12","2024-03-13","2024-03-14","2024-03-15","2024-03-18","2024-03-19","2024-03-20","2024-03-21","2024-03-22","2024-03-25","2024-03-26","2024-03-27","2024-03-28","2024-04-01","2024-04-02","2024-04-03","2024-04-04","2024-04-05","2024-04-08","2024-04-09","2024-04-10","2024-04-11","2024-04-12","2024-04-15","2024-04-16","2024-04-17","2024-04-18","2024-04-19","2024-04-22","2024-04-23","2024-04-24","2024-04-25","2024-04-26","2024-04-29","2024-04-30","2024-05-01","2024-05-02","2024-05-03","2024-05-06","2024-05-07","2024-05-08","2024-05-09","2024-05-10","2024-05-13","2024-05-14","2024-05-15","2024-05-16","2024-05-17","2024-05-20","2024-05-21","2024-05-22","2024-05-23","2024-05-24","2024-05-28","2024-05-29","2024-05-30","2024-05-31","2024-06-03","2024-06-04","2024-06-05","2024-06-06","2024-06-07","2024-06-10","2024-06-11","2024-06-12","2024-06-13","2024-06-14","2024-06-17","2024-06-18","2024-06-20","2024-06-21","2024-06-24","2024-06-25","2024-06-26","2024-06-27","2024-06-28","2024-07-01","2024-07-02","2024-07-03","2024-07-05","2024-07-08","2024-07-09","2024-07-10","2024-07-11","2024-07-12","2024-07-15","2024-07-16","2024-07-17","2024-07-18","2024-07-19","2024-07-22","2024-07-23","2024-07-24","2024-07-25","2024-07-26","2024-07-29","2024-07-30","2024-07-31","2024-08-01","2024-08-02","2024-08-05","2024-08-06","2024-08-07","2024-08-08","2024-08-09","2024-08-12","2024-08-13","2024-08-14","2024-08-15","2024-08-16","2024-08-19","2024-08-20","2024-08-21","2024-08-22","2024-08-23","2024-08-26","2024-08-27","2024-08-28","2024-08-29","2024-08-30"]}},
  "y":{"field":"v","type":"quantitative","axis":null,"scale":{"domain":[120.8,289.2],"nice":false,"zero":false}},
  "text":{"field":"t"}
 }}
]
}
